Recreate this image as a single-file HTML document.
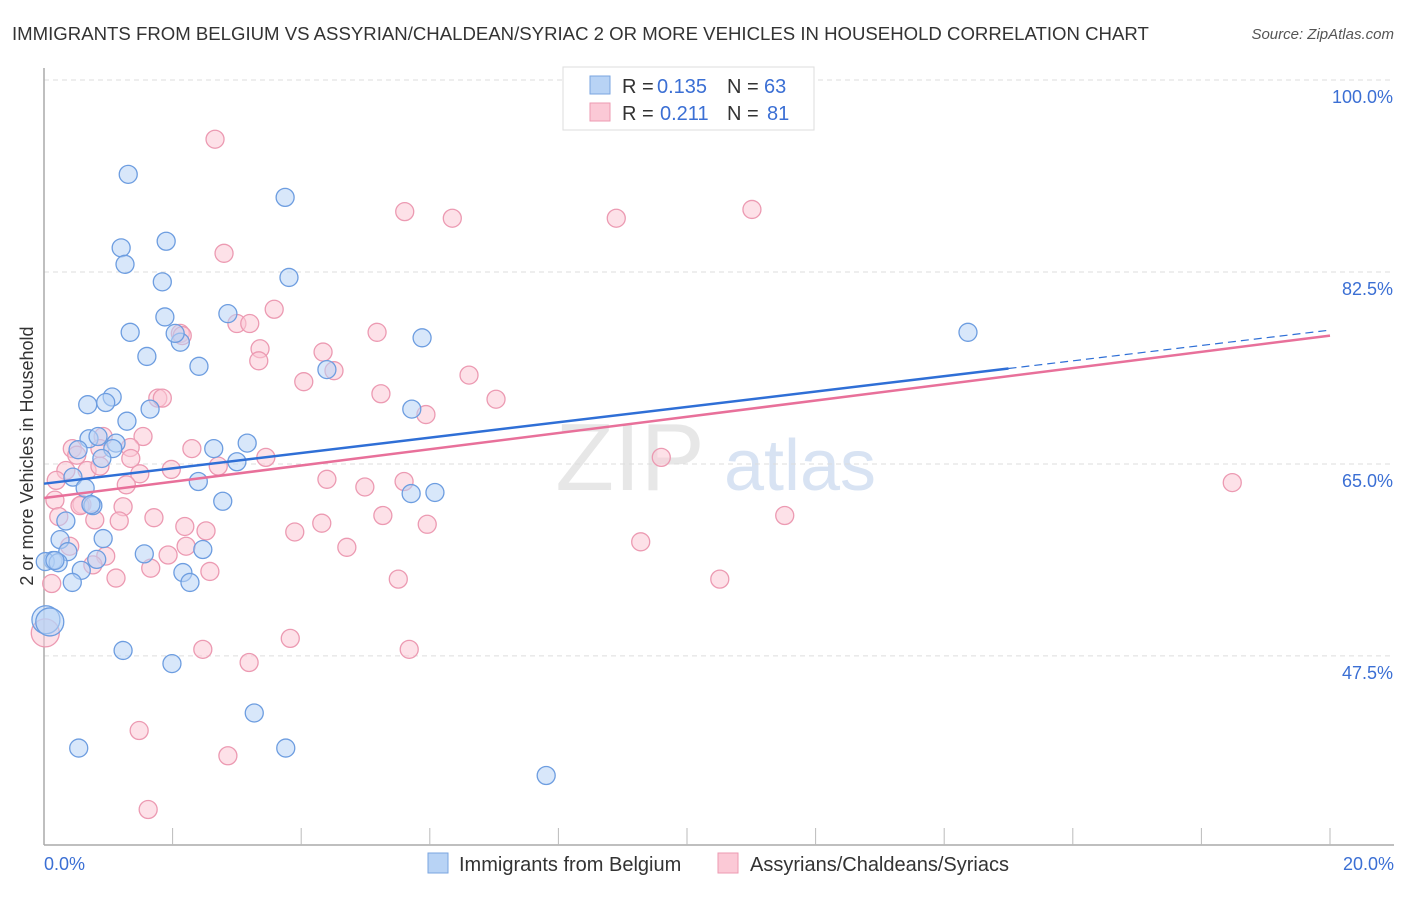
<!DOCTYPE html>
<html><head><meta charset="utf-8"><style>
body{margin:0;background:#fff;font-family:"Liberation Sans",sans-serif}
svg text{font-family:"Liberation Sans",sans-serif}
</style></head><body>
<svg id="chart" width="1406" height="892" xmlns="http://www.w3.org/2000/svg">
<text x="12" y="40" font-size="18.6" fill="#333">IMMIGRANTS FROM BELGIUM VS ASSYRIAN/CHALDEAN/SYRIAC 2 OR MORE VEHICLES IN HOUSEHOLD CORRELATION CHART</text>
<text x="1394" y="39" font-size="15" fill="#555" text-anchor="end" font-style="italic">Source: ZipAtlas.com</text>
<g>
<text x="630" y="490" font-size="96" fill="#ddd" font-family="Liberation Serif" text-anchor="middle" opacity="0.7">ZIP</text>
<text x="800" y="490" font-size="72" fill="#c8d8ef" text-anchor="middle" opacity="0.7">atlas</text>
</g>
<g id="grid"></g>
<g id="axes"></g>
<g id="points"></g>
<g id="trends"></g>
<text transform="translate(33,456) rotate(-90)" font-size="18" fill="#333" text-anchor="middle">2 or more Vehicles in Household</text>
<g>
<rect x="563" y="67" width="251" height="63" fill="#fff" stroke="#ddd"/>
<rect x="590" y="76" width="20" height="18" fill="#b8d3f5" stroke="#7aa6e0"/>
<rect x="590" y="103" width="20" height="18" fill="#fbc9d6" stroke="#ec9ab2"/>
<text x="622" y="93" font-size="20" fill="#333">R =</text>
<text x="657" y="93" font-size="20" fill="#3b6fd4">0.135</text>
<text x="727" y="93" font-size="20" fill="#333">N =</text>
<text x="764" y="93" font-size="20" fill="#3b6fd4">63</text>
<text x="622" y="120" font-size="20" fill="#333">R =</text>
<text x="660" y="120" font-size="20" fill="#3b6fd4">0.211</text>
<text x="727" y="120" font-size="20" fill="#333">N =</text>
<text x="767" y="120" font-size="20" fill="#3b6fd4">81</text>
</g>
<g>
<rect x="428" y="853" width="20" height="20" fill="#b8d3f5" stroke="#7aa6e0"/>
<text x="459" y="871" font-size="20" fill="#333">Immigrants from Belgium</text>
<rect x="718" y="853" width="20" height="20" fill="#fbc9d6" stroke="#ec9ab2"/>
<text x="750" y="871" font-size="20" fill="#333">Assyrians/Chaldeans/Syriacs</text>
</g>
</svg>
<script>
const yTicks=[100,82.5,65,47.5];
const yTickLabels=["100.0%","82.5%","65.0%","47.5%"];
const xLabels=["0.0%","20.0%"];
const blueX=[1.31,1.90,1.20,1.26,1.84,3.75,3.81,1.88,2.86,1.34,2.12,1.60,2.41,5.88,4.40,14.37,0.68,1.06,0.96,1.65,1.29,5.72,0.70,0.84,1.12,1.07,0.53,0.90,3.16,2.64,3.00,0.45,0.64,2.40,2.78,6.08,5.71,0.76,0.73,0.34,0.25,0.92,0.37,0.82,0.14,0.02,0.22,0.58,1.56,2.47,2.16,2.27,0.44,0.03,0.09,1.23,1.99,3.27,0.54,3.76,7.81,0.17,2.04];
const blueY=[91.4,85.3,84.7,83.2,81.6,89.3,82.0,78.4,78.7,77.0,76.1,74.8,73.9,76.5,73.6,77.0,70.4,71.1,70.6,70.0,68.9,70.0,67.3,67.5,66.9,66.4,66.3,65.5,66.9,66.4,65.2,63.8,62.8,63.4,61.6,62.4,62.3,61.2,61.3,59.8,58.1,58.2,57.0,56.3,56.2,56.1,56.0,55.3,56.8,57.2,55.1,54.2,54.2,50.8,50.6,48.0,46.8,42.3,39.1,39.1,36.6,56.2,76.9];
const pinkX=[2.66,2.80,5.61,6.35,8.90,11.01,3.58,3.00,3.20,2.12,2.15,5.18,3.36,4.34,3.34,4.51,4.04,6.61,5.24,1.77,1.84,7.03,5.94,1.54,0.92,0.44,0.87,2.30,3.45,0.51,1.34,1.35,2.71,1.98,1.49,0.34,0.67,0.87,4.40,5.60,4.99,1.28,0.17,0.59,0.56,1.23,18.48,9.60,0.79,1.17,1.71,5.27,4.32,2.19,2.52,3.90,5.96,11.52,0.23,0.40,2.21,4.71,9.28,0.96,1.93,0.76,1.66,2.58,1.12,5.51,10.51,0.12,3.83,2.47,5.68,3.19,1.48,2.86,1.62,0.02,0.19];
const pinkY=[94.6,84.2,88.0,87.4,87.4,88.2,79.1,77.8,77.8,76.9,76.7,77.0,75.5,75.2,74.4,73.5,72.5,73.1,71.4,71.0,71.0,70.9,69.5,67.5,67.5,66.4,66.4,66.4,65.6,65.8,66.5,65.5,64.8,64.5,64.1,64.4,64.4,64.8,63.6,63.4,62.9,63.1,61.7,61.3,61.2,61.1,63.3,65.6,59.9,59.8,60.1,60.3,59.6,59.3,58.9,58.8,59.5,60.3,60.2,57.5,57.5,57.4,57.9,56.6,56.7,55.8,55.5,55.2,54.6,54.5,54.5,54.1,49.1,48.1,48.1,46.9,40.7,38.4,33.5,49.6,63.5];
const blueTrend=[63.2,77.2];
const pinkTrend=[61.9,76.7];
const blueSolidEnd=15.0;
const NS="http://www.w3.org/2000/svg";
const X=v=>44+v*64.3;
const Y=v=>80+(100-v)*10.97;
function mk(tag,attrs,parent){const e=document.createElementNS(NS,tag);for(const k in attrs)e.setAttribute(k,attrs[k]);parent.appendChild(e);return e;}
const grid=document.getElementById('grid'),axes=document.getElementById('axes'),pts=document.getElementById('points'),tr=document.getElementById('trends');
yTicks.forEach((t,i)=>{
 const l=mk('line',{x1:44,x2:1394,y1:Y(t),y2:Y(t),stroke:'#ddd','stroke-dasharray':'5,4'},grid);
 
 
 const tx=mk('text',{x:1393,y:Y(t)+23,'font-size':18,fill:'#3b6fd4','text-anchor':'end'},axes);
 tx.textContent=yTickLabels[i];
 
 
});
const ya=mk('line',{x1:44,x2:44,y1:68,y2:845,stroke:'#aaa','stroke-width':1.5},axes);


const xa=mk('line',{x1:44,x2:1394,y1:845,y2:845,stroke:'#aaa','stroke-width':1.5},axes);


for(let i=1;i<=10;i++){
 const tk=mk('line',{x1:X(i*2),x2:X(i*2),y1:828,y2:845,stroke:'#bbb'},axes);
 
 
}
[[0,44,'start'],[20,1394,'end']].forEach((a,i)=>{
 const t=mk('text',{x:a[1],y:870,'font-size':18,fill:'#3b6fd4','text-anchor':a[2]},axes);
 t.textContent=xLabels[i];
 
 
});
function dots(xs,ys,fill,stroke,name){
 xs.forEach((x,i)=>{
  const r=(x<0.1 && ys[i]<52)?14:9;
  const c=mk('circle',{cx:X(x),cy:Y(ys[i]),r:r,fill:fill,stroke:stroke,'stroke-width':1.3,'fill-opacity':0.55},pts);
  
  
 });
}
dots(pinkX,pinkY,'#fbc9d6','#ec9ab2','pink-point');
dots(blueX,blueY,'#b8d3f5','#6d9de0','blue-point');
function at(t,x){return t[0]+(t[1]-t[0])*x/20;}
const pl=mk('line',{x1:X(0),y1:Y(pinkTrend[0]),x2:X(20),y2:Y(pinkTrend[1]),stroke:'#e8709a','stroke-width':2.5},tr);


const bl=mk('line',{x1:X(0),y1:Y(blueTrend[0]),x2:X(blueSolidEnd),y2:Y(at(blueTrend,blueSolidEnd)),stroke:'#2f6fd6','stroke-width':2.5},tr);


const bd=mk('line',{x1:X(blueSolidEnd),y1:Y(at(blueTrend,blueSolidEnd)),x2:X(20),y2:Y(blueTrend[1]),stroke:'#2f6fd6','stroke-width':1.2,'stroke-dasharray':'8,5'},tr);


</script>
</body></html>
